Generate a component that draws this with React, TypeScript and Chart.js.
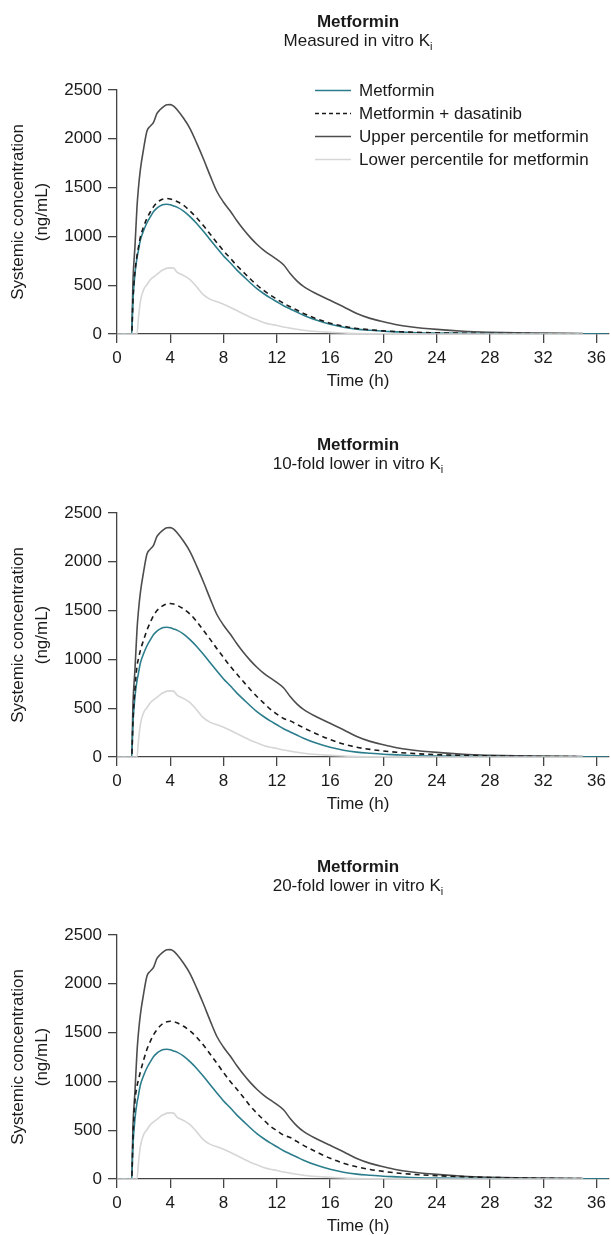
import React, { useEffect, useRef } from "react";
import { Chart, registerables } from "chart.js";

Chart.register(...registerables);

// ---------- data ----------
const TIME_H = [0, 1.1, 1.2, 1.35, 1.5, 1.6, 1.75, 2, 2.25, 2.5, 2.75, 3, 3.25, 3.5, 3.75, 4, 4.25, 4.5, 5, 5.5, 6, 6.5, 7, 7.5, 8, 8.5, 9, 9.5, 10, 10.5, 11, 11.5, 12, 12.5, 13, 13.5, 14, 15, 16, 17, 18, 19, 20, 21, 22, 24, 26, 28, 30, 32, 35, 40];

const METFORMIN = [0, 0, 350, 620, 780, 850, 960, 1060, 1140, 1200, 1255, 1290, 1313, 1326, 1330, 1325, 1312, 1300, 1260, 1200, 1130, 1050, 965, 880, 800, 730, 655, 590, 525, 465, 415, 370, 330, 290, 257, 225, 193, 140, 100, 70, 50, 38, 28, 22, 16, 10, 6, 4, 3, 2, 1, 0];

const UPPER_PCT = [0, 0, 550, 900, 1300, 1480, 1680, 1900, 2080, 2130, 2170, 2260, 2300, 2330, 2348, 2350, 2335, 2300, 2210, 2100, 1950, 1790, 1620, 1460, 1350, 1260, 1160, 1070, 990, 920, 860, 810, 765, 710, 620, 545, 488, 410, 345, 280, 210, 160, 125, 95, 75, 47, 28, 18, 12, 9, 5, null];

const LOWER_PCT = [0, 0, 0, 0, 0, 150, 330, 455, 505, 555, 585, 610, 640, 660, 675, 678, 675, 635, 600, 555, 480, 400, 355, 330, 305, 275, 240, 205, 172, 145, 118, 100, 88, 72, 60, 48, 38, 25, 17, 10, 5, 3, 2, 1.5, 1, 0.5, 0, 0, 0, 0, 0, null];

const DASATINIB_MEASURED = [0, 0, 360, 640, 800, 880, 990, 1100, 1185, 1250, 1305, 1345, 1370, 1384, 1388, 1384, 1372, 1357, 1318, 1258, 1188, 1108, 1022, 935, 852, 778, 700, 632, 565, 502, 448, 400, 357, 315, 279, 245, 211, 155, 111, 79, 57, 43, 32, 25, 19, 12, 8, 5, 4, 3, 2, null];

const DASATINIB_10FOLD = [0, 0, 380, 700, 930, 1000, 1090, 1200, 1300, 1380, 1450, 1500, 1530, 1555, 1568, 1572, 1567, 1555, 1517, 1462, 1385, 1295, 1205, 1110, 1020, 930, 850, 770, 692, 620, 555, 490, 440, 395, 370, 335, 300, 235, 180, 133, 100, 78, 62, 48, 38, 24, 17, 12, 8, 5, 3, null];

const DASATINIB_20FOLD = [0, 0, 420, 800, 950, 1010, 1095, 1220, 1330, 1410, 1480, 1530, 1570, 1598, 1612, 1616, 1612, 1600, 1565, 1515, 1450, 1370, 1278, 1185, 1090, 1000, 920, 835, 748, 675, 607, 542, 495, 450, 425, 385, 345, 275, 212, 162, 125, 98, 78, 62, 50, 34, 24, 16, 11, 7, 4, null];

const X_TICKS = [0, 4, 8, 12, 16, 20, 24, 28, 32, 36];
const Y_TICKS = [0, 500, 1000, 1500, 2000, 2500];

const PANEL_TITLE = "Metformin";
const SUBTITLES = ["Measured in vitro K", "10-fold lower in vitro K", "20-fold lower in vitro K"];
const SUBSCRIPT = "i";
const LEGEND_LABELS = ["Metformin", "Metformin + dasatinib", "Upper percentile for metformin", "Lower percentile for metformin"];
const Y_TITLE = ["Systemic concentration", "(ng/mL)"];
const X_TITLE = "Time (h)";

// ---------- styles ----------
const FONT = "'Liberation Sans', Arial, Helvetica, sans-serif";
const TEAL = "#2b7d8c";
const DASH = "#1a1a1a";
const UPPER_C = "#4d4d4d";
const LOWER_C = "#d6d6d6";
const AXIS_C = "#444444";
const TEXT_C = "#1a1a1a";
const FS = 17;

const W = 611;
const CHART_TOP = 90;
const CHART_BOTTOM = 334;
const Y_AXIS_W = 117;
const X_MAX = 36.9;
const CENTER_X = 358;

const PANELS = [
  { top: 0, height: 415, dasatinib: DASATINIB_MEASURED, legend: true },
  { top: 423, height: 415, dasatinib: DASATINIB_10FOLD, legend: false },
  { top: 845, height: 390, dasatinib: DASATINIB_20FOLD, legend: false },
];

function toXY(values: (number | null)[]) {
  return TIME_H.map((t, i) => ({ x: t, y: values[i] }));
}

function Panel({ index, top, height, dasatinib, legend }: any) {
  const ref = useRef<HTMLCanvasElement | null>(null);

  useEffect(() => {
    const canvas = ref.current;
    if (!canvas) return;

    const decor = {
      id: "decor" + index,
      afterDraw(chart: any) {
        const ctx = chart.ctx;
        ctx.save();
        ctx.fillStyle = TEXT_C;
        // title
        ctx.font = `bold ${FS}px ${FONT}`;
        ctx.textAlign = "center";
        ctx.textBaseline = "alphabetic";
        ctx.fillText(PANEL_TITLE, CENTER_X, 27);
        // subtitle with subscript
        const main = SUBTITLES[index];
        ctx.font = `${FS}px ${FONT}`;
        const wMain = ctx.measureText(main).width;
        ctx.font = `${11}px ${FONT}`;
        const wSub = ctx.measureText(SUBSCRIPT).width;
        const x0 = CENTER_X - (wMain + wSub) / 2;
        ctx.textAlign = "left";
        ctx.font = `${FS}px ${FONT}`;
        ctx.fillText(main, x0, 46);
        ctx.font = `${11}px ${FONT}`;
        ctx.fillText(SUBSCRIPT, x0 + wMain, 50);

        // y title
        const area = chart.chartArea;
        const cy = (area.top + area.bottom) / 2;
        ctx.font = `${FS}px ${FONT}`;
        ctx.textAlign = "center";
        ctx.textBaseline = "middle";
        [18, 42].forEach((x, i) => {
          ctx.save();
          ctx.translate(x, cy);
          ctx.rotate(-Math.PI / 2);
          ctx.fillText(Y_TITLE[i], 0, 0);
          ctx.restore();
        });

        // x title
        ctx.textBaseline = "alphabetic";
        ctx.fillText(X_TITLE, CENTER_X, 386);

        // legend
        if (legend) {
          const styles = [
            { c: TEAL, d: [] },
            { c: DASH, d: [4, 3] },
            { c: UPPER_C, d: [] },
            { c: LOWER_C, d: [] },
          ];
          LEGEND_LABELS.forEach((lab, i) => {
            const y = 90.5 + i * 23;
            ctx.save();
            ctx.strokeStyle = styles[i].c;
            ctx.lineWidth = 1.5;
            ctx.setLineDash(styles[i].d);
            ctx.beginPath();
            ctx.moveTo(315, y);
            ctx.lineTo(351, y);
            ctx.stroke();
            ctx.restore();
            ctx.textAlign = "left";
            ctx.textBaseline = "middle";
            ctx.fillStyle = TEXT_C;
            ctx.fillText(lab, 359, y + 1);
          });
        }
        ctx.restore();
      },
    };

    const axisCommon = {
      grid: {
        drawOnChartArea: false,
        drawTicks: true,
        tickLength: 9,
        color: AXIS_C,
        lineWidth: 1.3,
      },
      border: { color: AXIS_C, width: 1.3 },
    };

    const chart = new Chart(canvas, {
      type: "line",
      data: {
        datasets: [
          {
            label: LEGEND_LABELS[3],
            data: toXY(LOWER_PCT),
            borderColor: LOWER_C,
            borderWidth: 1.6,
            order: 0,
            cubicInterpolationMode: "monotone",
          },
          {
            label: LEGEND_LABELS[1],
            data: toXY(dasatinib),
            borderColor: DASH,
            borderWidth: 1.6,
            borderDash: [5, 4],
            order: 1,
            cubicInterpolationMode: "monotone",
          },
          {
            label: LEGEND_LABELS[0],
            data: toXY(METFORMIN),
            borderColor: TEAL,
            borderWidth: 1.6,
            order: 2,
            cubicInterpolationMode: "monotone",
          },
          {
            label: LEGEND_LABELS[2],
            data: toXY(UPPER_PCT),
            borderColor: UPPER_C,
            borderWidth: 1.6,
            order: 3,
            cubicInterpolationMode: "monotone",
          },
        ],
      },
      options: {
        responsive: false,
        animation: false,
        devicePixelRatio: 1,
        layout: { padding: { top: CHART_TOP, left: 0, right: 0, bottom: 0 } },
        elements: { point: { radius: 0 } },
        plugins: { legend: { display: false }, tooltip: { enabled: false }, title: { display: false } },
        scales: {
          x: {
            type: "linear",
            min: 0,
            max: X_MAX,
            ...axisCommon,
            afterBuildTicks: (s: any) => {
              s.ticks = X_TICKS.map((v) => ({ value: v }));
            },
            afterFit: (s: any) => {
              s.height = height - CHART_BOTTOM;
            },
            ticks: {
              font: { size: FS, family: FONT },
              color: TEXT_C,
              padding: 5,
              maxRotation: 0,
              autoSkip: false,
              callback: (v: any) => String(v),
            },
          },
          y: {
            type: "linear",
            min: 0,
            max: 2500,
            ...axisCommon,
            afterBuildTicks: (s: any) => {
              s.ticks = Y_TICKS.map((v) => ({ value: v }));
            },
            afterFit: (s: any) => {
              s.width = Y_AXIS_W;
            },
            ticks: {
              font: { size: FS, family: FONT },
              color: TEXT_C,
              padding: 6,
              autoSkip: false,
              callback: (v: any) => String(v),
            },
          },
        },
      },
      plugins: [decor],
    } as any);

    return () => chart.destroy();
  }, [index, height, dasatinib, legend]);

  return (
    <canvas
      ref={ref}
      width={W}
      height={height}
      style={{ position: "absolute", left: 0, top, width: W, height }}
    />
  );
}

export default function App() {
  return (
    <div style={{ position: "absolute", left: 0, top: 0, width: W, height: 1235, background: "#fff", overflow: "hidden" }}>
      {PANELS.map((p, i) => (
        <Panel key={i} index={i} top={p.top} height={p.height} dasatinib={p.dasatinib} legend={p.legend} />
      ))}
    </div>
  );
}
